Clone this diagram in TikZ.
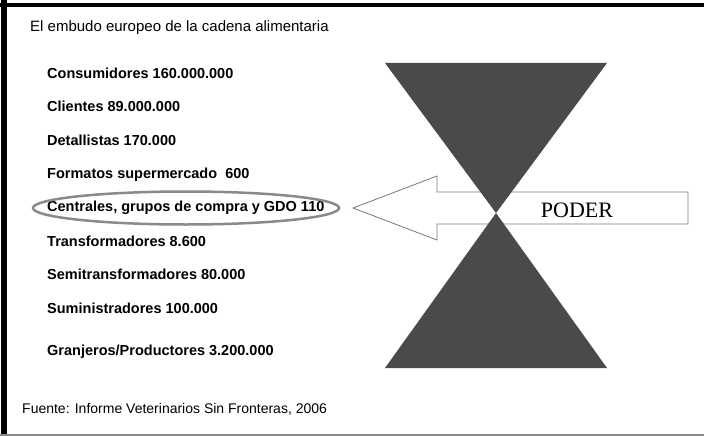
\documentclass[tikz,border=0pt]{standalone}
\usepackage{fontspec}
\setmainfont{Liberation Sans}
\newfontfamily\poderfont{Liberation Serif}
\usepackage{xcolor}
\definecolor{embudo}{HTML}{4A4A4A}
\definecolor{flecha}{HTML}{7A7A7A}
\definecolor{marco}{HTML}{8A8A8A}

\tikzset{
    item/.style={anchor=west,inner sep=0pt,font=\fontsize{14.5}{14.5}\selectfont\bfseries},
    nota/.style={anchor=west,inner sep=0pt,font=\fontsize{15}{15}\selectfont}
}

\begin{document}
\begin{tikzpicture}[x=1pt,y=-1pt]
    \useasboundingbox (0,0) rectangle (704,436);

    % Frame
    \fill[white] (0,0) rectangle (704,436);
    \draw[line width=4pt] (0,5) to (704,5);
    \draw[line width=6pt] (4,0) to (4,436);
    \draw[marco,line width=2pt] (0,435) to (704,435);

    % Titles
    \node[nota] (titulo) at (30,28) {El embudo europeo de la cadena alimentaria};
    \node[nota,font=\fontsize{14}{14}\selectfont] (fuente) at (22,409) {Fuente: Informe Veterinarios Sin Fronteras, 2006};

    % Chain levels
    \node[item] (consumidores) at (47,73) {Consumidores 160.000.000};
    \node[item] (clientes) at (47,106) {Clientes 89.000.000};
    \node[item] (detallistas) at (47,140) {Detallistas 170.000};
    \node[item] (formatos) at (47,175) {Formatos supermercado\ \ 600};
    \node[item] (centrales) at (47,208) {Centrales, grupos de compra y GDO 110};
    \node[item] (transf) at (47,241) {Transformadores 8.600};
    \node[item] (semitransf) at (47,274) {Semitransformadores 80.000};
    \node[item] (suministr) at (47,308) {Suministradores 100.000};
    \node[item] (granjeros) at (47,352) {Granjeros/Productores 3.200.000};

    % Ring round the buying groups
    \draw[marco,line width=2.5pt] (186,208) ellipse [x radius=153,y radius=16.5];

    % Power arrow
    \draw[flecha,fill=white,line width=0.8pt]
        (688,192) -- (437,192) -- (437,176) -- (353,208)
        -- (437,240) -- (437,224) -- (688,224) -- cycle;
    \node[font=\poderfont\fontsize{22}{22}\selectfont] (poder) at (577,210) {PODER};

    % Funnel
    \coordinate (cuello) at (496,213);
    \fill[embudo] (385,63) -- (607,63) -- (cuello) -- cycle;
    \fill[embudo] (385,368) -- (607,368) -- (cuello) -- cycle;
\end{tikzpicture}
\end{document}
